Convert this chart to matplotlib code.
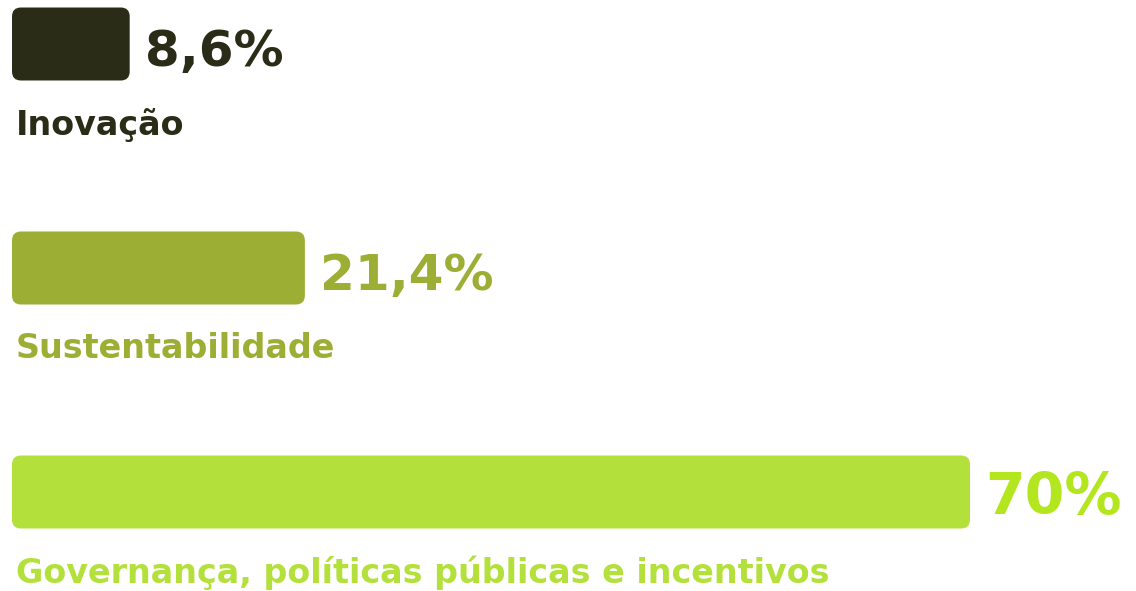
import matplotlib
matplotlib.use("Agg")
import matplotlib.pyplot as plt
from matplotlib.patches import FancyBboxPatch

# dados
categorias = ["Inovação", "Sustentabilidade", "Governança, políticas públicas e incentivos"]
valores = [8.6, 21.4, 70.0]
rotulos = ["8,6%", "21,4%", "70%"]
cores_barra = ["#2a2c17", "#9caf34", "#b3e03a"]
cores_texto = ["#2a2c17", "#9caf34", "#b3e61f"]

W, H = 1136, 591
k = 958 / 70.0  # pixels por ponto percentual

fig = plt.figure(figsize=(W / 100, H / 100), dpi=100)
ax = fig.add_axes([12 / W, 0, (W - 12) / W, 1])
ax.set_xlim(0, (W - 12) / k)
ax.set_ylim(H / k, 0)
ax.axis("off")

fonte = "DejaVu Sans"
altura = 73 / k
espaco = 224 / k
y0 = 44 / k

for i, (cat, v, rot) in enumerate(zip(categorias, valores, rotulos)):
    yc = y0 + i * espaco
    barra = FancyBboxPatch((0, yc - altura / 2), v, altura,
                           boxstyle="round,pad=0,rounding_size=%f" % (9 / k),
                           fc=cores_barra[i], ec="none")
    ax.add_patch(barra)
    ax.text(v + 15 / k, yc + 22 / k, rot, color=cores_texto[i], fontsize=36 if i < 2 else 41,
            fontweight="bold", family=fonte, va="baseline", ha="left")
    ax.text(4 / k, yc + altura / 2 + 54 / k, cat, color=cores_barra[i], fontsize=24,
            fontweight="bold", family=fonte, va="baseline", ha="left")

fig.savefig("out.png", dpi=100)
